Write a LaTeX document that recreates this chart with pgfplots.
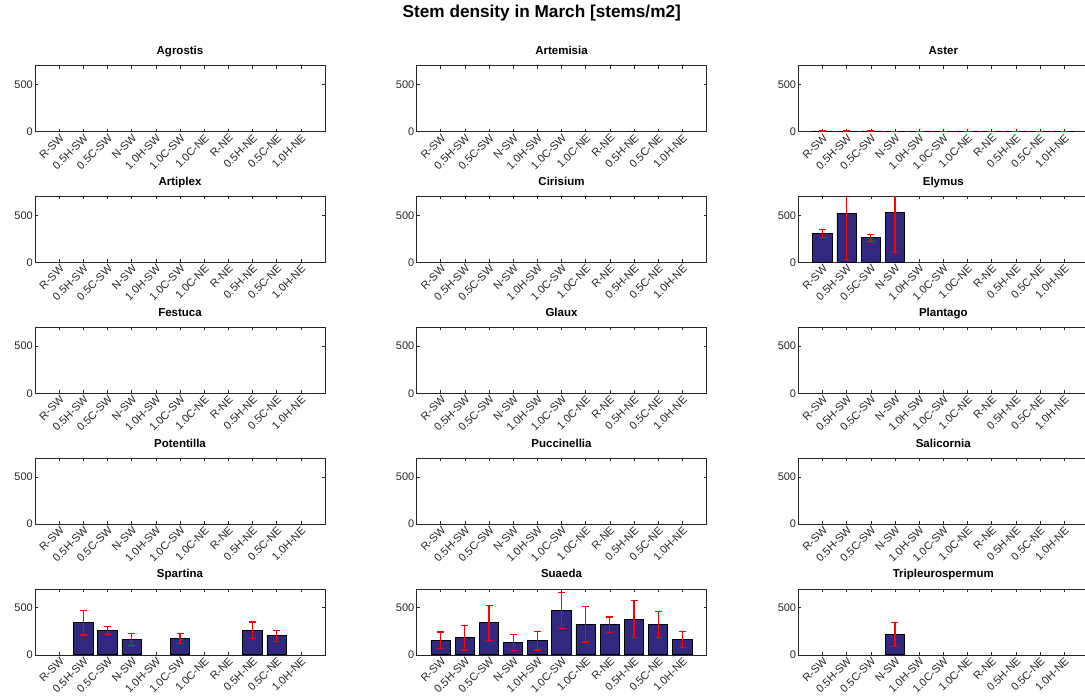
\documentclass[border=0pt]{standalone}
\usepackage{pgfplots}
\pgfplotsset{compat=1.18}
\usepackage{fontspec}
\setmainfont{Liberation Sans}

\definecolor{barblue}{RGB}{49,40,127}
\definecolor{axgray}{RGB}{38,38,38}

\pgfplotsset{
  panel/.style={
    scale only axis, width=290pt, height=66pt, anchor=south west,
    xmin=0, xmax=12, ymin=0, ymax=700,
    xtick={1,...,11},
    xticklabels={R-SW,0.5H-SW,0.5C-SW,N-SW,1.0H-SW,1.0C-SW,1.0C-NE,R-NE,0.5H-NE,0.5C-NE,1.0H-NE},
    ytick={0,500},
    /pgf/number format/assume math mode=true,
    tick align=inside, tick pos=both, ticklabel pos=left,
    major tick length=3pt,
    axis line style={axgray, line width=0.6pt},
    every tick/.style={axgray, line width=0.6pt},
    tick label style={font=\fontsize{11}{12}\selectfont, text=axgray},
    x tick label style={rotate=45, anchor=north east, inner sep=1pt},
    y tick label style={inner sep=2pt},
    title style={at={(0.5,1)}, anchor=base, yshift=5pt, font=\bfseries\fontsize{11.5}{13}\selectfont},
  },
  stem/.style={
    ybar, bar width=19.4pt, fill=barblue, draw=black, line width=0.8pt,
  },
  errs/.style={
    red, only marks, mark=text, text mark={}, forget plot, line width=1.2pt,
    error bars/.cd, y dir=both, y explicit,
    error bar style={red, line width=1.2pt},
    error mark options={red, mark size=3.5pt, rotate=90, line width=1.2pt},
  },
}

\begin{document}
\begin{tikzpicture}
\useasboundingbox (0,0) rectangle (1085pt,699pt);

\node[font=\bfseries\fontsize{17.2}{19}\selectfont] at (541.8pt,685.7pt) {Stem density in March [stems/m2]};

% row 1
\begin{axis}[panel, at={(35pt,567.3pt)}, title={Agrostis}]
\end{axis}
\begin{axis}[panel, at={(416.5pt,567.3pt)}, title={Artemisia}]
\end{axis}
\begin{axis}[panel, at={(798.3pt,567.3pt)}, title={Aster}]
  \addplot[stem] coordinates {
    (1,8) (2,6) (3,8) (4,3) (5,3) (6,3) (7,3) (8,3) (9,3) (10,3) (11,3)
  };
  \addplot[errs] coordinates {
    (1,8) +- (0,6) (2,6) +- (0,4) (3,8) +- (0,6) (4,3) +- (0,2)
    (5,3) +- (0,2) (6,3) +- (0,2) (7,3) +- (0,2) (8,3) +- (0,2)
    (9,3) +- (0,2) (10,3) +- (0,2) (11,3) +- (0,2)
  };
\end{axis}

% row 2
\begin{axis}[panel, at={(35pt,436.5pt)}, title={Artiplex}]
\end{axis}
\begin{axis}[panel, at={(416.5pt,436.5pt)}, title={Cirisium}]
\end{axis}
\begin{axis}[panel, at={(798.3pt,436.5pt)}, title={Elymus}]
  \addplot[stem] coordinates {(1,308) (2,521) (3,262) (4,535)};
  \addplot[errs] coordinates {
    (1,308) +- (0,42) (2,521) +- (0,486) (3,262) +- (0,38) (4,535) +- (0,430)
  };
\end{axis}

% row 3
\begin{axis}[panel, at={(35pt,305.7pt)}, title={Festuca}]
\end{axis}
\begin{axis}[panel, at={(416.5pt,305.7pt)}, title={Glaux}]
\end{axis}
\begin{axis}[panel, at={(798.3pt,305.7pt)}, title={Plantago}]
\end{axis}

% row 4
\begin{axis}[panel, at={(35pt,174.9pt)}, title={Potentilla}]
\end{axis}
\begin{axis}[panel, at={(416.5pt,174.9pt)}, title={Puccinellia}]
\end{axis}
\begin{axis}[panel, at={(798.3pt,174.9pt)}, title={Salicornia}]
\end{axis}

% row 5
\begin{axis}[panel, at={(35pt,44.1pt)}, title={Spartina}]
  \addplot[stem] coordinates {(2,340) (3,259) (4,160) (6,177) (9,262) (10,202)};
  \addplot[errs] coordinates {
    (2,340) +- (0,130) (3,259) +- (0,46) (4,160) +- (0,63)
    (6,177) +- (0,53) (9,262) +- (0,87) (10,202) +- (0,60)
  };
\end{axis}
\begin{axis}[panel, at={(416.5pt,44.1pt)}, title={Suaeda}]
  \addplot[stem] coordinates {
    (1,156) (2,181) (3,340) (4,131) (5,149) (6,468)
    (7,326) (8,319) (9,379) (10,319) (11,167)
  };
  \addplot[errs] coordinates {
    (1,156) +- (0,87) (2,181) +- (0,130) (3,340) +- (0,188) (4,131) +- (0,88)
    (5,149) +- (0,97) (6,468) +- (0,190) (7,326) +- (0,190) (8,319) +- (0,84)
    (9,379) +- (0,195) (10,319) +- (0,138) (11,167) +- (0,85)
  };
\end{axis}
\begin{axis}[panel, at={(798.3pt,44.1pt)}, title={Tripleurospermum}]
  \addplot[stem] coordinates {(4,217)};
  \addplot[errs] coordinates {(4,217) +- (0,128)};
\end{axis}
\end{tikzpicture}
\end{document}
